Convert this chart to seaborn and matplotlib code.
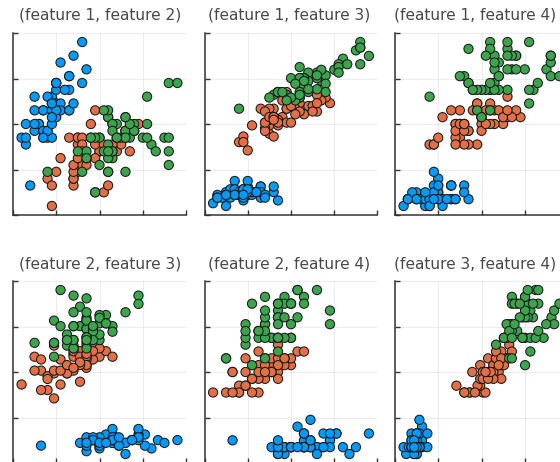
import numpy as np
import pandas as pd
import matplotlib
matplotlib.use("Agg")
import matplotlib.pyplot as plt
import seaborn as sns

# Iris measurements (150 flowers, 3 species of 50)
feature_1 = [
    5.1, 4.9, 4.7, 4.6, 5.0, 5.4, 4.6, 5.0, 4.4, 4.9, 5.4, 4.8, 4.8, 4.3, 5.8, 5.7, 5.4, 5.1, 5.7, 5.1,
    5.4, 5.1, 4.6, 5.1, 4.8, 5.0, 5.0, 5.2, 5.2, 4.7, 4.8, 5.4, 5.2, 5.5, 4.9, 5.0, 5.5, 4.9, 4.4, 5.1,
    5.0, 4.5, 4.4, 5.0, 5.1, 4.8, 5.1, 4.6, 5.3, 5.0,
    7.0, 6.4, 6.9, 5.5, 6.5, 5.7, 6.3, 4.9, 6.6, 5.2, 5.0, 5.9, 6.0, 6.1, 5.6, 6.7, 5.6, 5.8, 6.2, 5.6,
    5.9, 6.1, 6.3, 6.1, 6.4, 6.6, 6.8, 6.7, 6.0, 5.7, 5.5, 5.5, 5.8, 6.0, 5.4, 6.0, 6.7, 6.3, 5.6, 5.5,
    5.5, 6.1, 5.8, 5.0, 5.6, 5.7, 5.7, 6.2, 5.1, 5.7,
    6.3, 5.8, 7.1, 6.3, 6.5, 7.6, 4.9, 7.3, 6.7, 7.2, 6.5, 6.4, 6.8, 5.7, 5.8, 6.4, 6.5, 7.7, 7.7, 6.0,
    6.9, 5.6, 7.7, 6.3, 6.7, 7.2, 6.2, 6.1, 6.4, 7.2, 7.4, 7.9, 6.4, 6.3, 6.1, 7.7, 6.3, 6.4, 6.0, 6.9,
    6.7, 6.9, 5.8, 6.8, 6.7, 6.7, 6.3, 6.5, 6.2, 5.9,
]
feature_2 = [
    3.5, 3.0, 3.2, 3.1, 3.6, 3.9, 3.4, 3.4, 2.9, 3.1, 3.7, 3.4, 3.0, 3.0, 4.0, 4.4, 3.9, 3.5, 3.8, 3.8,
    3.4, 3.7, 3.6, 3.3, 3.4, 3.0, 3.4, 3.5, 3.4, 3.2, 3.1, 3.4, 4.1, 4.2, 3.1, 3.2, 3.5, 3.6, 3.0, 3.4,
    3.5, 2.3, 3.2, 3.5, 3.8, 3.0, 3.8, 3.2, 3.7, 3.3,
    3.2, 3.2, 3.1, 2.3, 2.8, 2.8, 3.3, 2.4, 2.9, 2.7, 2.0, 3.0, 2.2, 2.9, 2.9, 3.1, 3.0, 2.7, 2.2, 2.5,
    3.2, 2.8, 2.5, 2.8, 2.9, 3.0, 2.8, 3.0, 2.9, 2.6, 2.4, 2.4, 2.7, 2.7, 3.0, 3.4, 3.1, 2.3, 3.0, 2.5,
    2.6, 3.0, 2.6, 2.3, 2.7, 3.0, 2.9, 2.9, 2.5, 2.8,
    3.3, 2.7, 3.0, 2.9, 3.0, 3.0, 2.5, 2.9, 2.5, 3.6, 3.2, 2.7, 3.0, 2.5, 2.8, 3.2, 3.0, 3.8, 2.6, 2.2,
    3.2, 2.8, 2.8, 2.7, 3.3, 3.2, 2.8, 3.0, 2.8, 3.0, 2.8, 3.8, 2.8, 2.8, 2.6, 3.0, 3.4, 3.1, 3.0, 3.1,
    3.1, 3.1, 2.7, 3.2, 3.3, 3.0, 2.5, 3.0, 3.4, 3.0,
]
feature_3 = [
    1.4, 1.4, 1.3, 1.5, 1.4, 1.7, 1.4, 1.5, 1.4, 1.5, 1.5, 1.6, 1.4, 1.1, 1.2, 1.5, 1.3, 1.4, 1.7, 1.5,
    1.7, 1.5, 1.0, 1.7, 1.9, 1.6, 1.6, 1.5, 1.4, 1.6, 1.6, 1.5, 1.5, 1.4, 1.5, 1.2, 1.3, 1.4, 1.3, 1.5,
    1.3, 1.3, 1.3, 1.6, 1.9, 1.4, 1.6, 1.4, 1.5, 1.4,
    4.7, 4.5, 4.9, 4.0, 4.6, 4.5, 4.7, 3.3, 4.6, 3.9, 3.5, 4.2, 4.0, 4.7, 3.6, 4.4, 4.5, 4.1, 4.5, 3.9,
    4.8, 4.0, 4.9, 4.7, 4.3, 4.4, 4.8, 5.0, 4.5, 3.5, 3.8, 3.7, 3.9, 5.1, 4.5, 4.5, 4.7, 4.4, 4.1, 4.0,
    4.4, 4.6, 4.0, 3.3, 4.2, 4.2, 4.2, 4.3, 3.0, 4.1,
    6.0, 5.1, 5.9, 5.6, 5.8, 6.6, 4.5, 6.3, 5.8, 6.1, 5.1, 5.3, 5.5, 5.0, 5.1, 5.3, 5.5, 6.7, 6.9, 5.0,
    5.7, 4.9, 6.7, 4.9, 5.7, 6.0, 4.8, 4.9, 5.6, 5.8, 6.1, 6.4, 5.6, 5.1, 5.6, 6.1, 5.6, 5.5, 4.8, 5.4,
    5.6, 5.1, 5.1, 5.9, 5.7, 5.2, 5.0, 5.2, 5.4, 5.1,
]
feature_4 = [
    0.2, 0.2, 0.2, 0.2, 0.2, 0.4, 0.3, 0.2, 0.2, 0.1, 0.2, 0.2, 0.1, 0.1, 0.2, 0.4, 0.4, 0.3, 0.3, 0.3,
    0.2, 0.4, 0.2, 0.5, 0.2, 0.2, 0.4, 0.2, 0.2, 0.2, 0.2, 0.4, 0.1, 0.2, 0.2, 0.2, 0.2, 0.1, 0.2, 0.2,
    0.3, 0.3, 0.2, 0.6, 0.4, 0.3, 0.2, 0.2, 0.2, 0.2,
    1.4, 1.5, 1.5, 1.3, 1.5, 1.3, 1.6, 1.0, 1.3, 1.4, 1.0, 1.5, 1.0, 1.4, 1.3, 1.4, 1.5, 1.0, 1.5, 1.1,
    1.8, 1.3, 1.5, 1.2, 1.3, 1.4, 1.4, 1.7, 1.5, 1.0, 1.1, 1.0, 1.2, 1.6, 1.5, 1.6, 1.5, 1.3, 1.3, 1.3,
    1.2, 1.4, 1.2, 1.0, 1.3, 1.2, 1.3, 1.3, 1.1, 1.3,
    2.5, 1.9, 2.1, 1.8, 2.2, 2.1, 1.7, 1.8, 1.8, 2.5, 2.0, 1.9, 2.1, 2.0, 2.4, 2.3, 1.8, 2.2, 2.3, 1.5,
    2.3, 2.0, 2.0, 1.8, 2.1, 1.8, 1.8, 1.8, 2.1, 1.6, 1.9, 2.0, 2.2, 1.5, 1.4, 2.3, 2.4, 1.8, 1.8, 2.1,
    2.4, 2.3, 1.9, 2.3, 2.5, 2.3, 1.9, 2.0, 2.3, 1.8,
]
classes = ["setosa", "versicolor", "virginica"]
label = [c for c in classes for _ in range(50)]

pairs = [(1, 2), (1, 3), (1, 4), (2, 3), (2, 4), (3, 4)]
colors = ["#009AFA", "#E26F46", "#3DA44E"]

df = pd.DataFrame({
    "feature 1": feature_1,
    "feature 2": feature_2,
    "feature 3": feature_3,
    "feature 4": feature_4,
    "class": label,
})

sns.set_style("white")

W, H = 560, 462
fig = plt.figure(figsize=(W / 100, H / 100), dpi=100)

col_left = [13, 204.5, 395]
row_top = [33, 281]
title_x = [100.5, 289, 475]
title_y = [15, 264]
aw, ah = 173, 182
ink = "#333333"


def limits(values, pad=0.055):
    lo, hi = min(values), max(values)
    r = hi - lo
    return lo - pad * r, hi + pad * r


for k, (i, j) in enumerate(pairs):
    r, c = divmod(k, 3)
    left = col_left[c] / W
    bottom = 1 - (row_top[r] + ah) / H
    ax = fig.add_axes([left, bottom, aw / W, ah / H])
    xname, yname = f"feature {i}", f"feature {j}"
    sns.scatterplot(
        data=df, x=xname, y=yname, hue="class", hue_order=classes,
        palette=colors, s=44, edgecolor="#1a1a1a", linewidth=0.75,
        alpha=1.0, legend=False, ax=ax, zorder=3,
    )
    x0, x1 = limits(df[xname])
    y0, y1 = limits(df[yname])
    ax.set_xlim(x0, x1)
    ax.set_ylim(y0, y1)
    ax.set_xticks(np.linspace(x0, x1, 5))
    ax.set_yticks(np.linspace(y0, y1, 5))
    ax.set_xticklabels([])
    ax.set_yticklabels([])
    ax.set_xlabel("")
    ax.set_ylabel("")
    ax.tick_params(direction="in", length=3.5, width=1.0, color=ink,
                   bottom=True, left=True)
    ax.grid(True, color="#000000", alpha=0.07, linewidth=0.8, zorder=0)
    for side in ("top", "right"):
        ax.spines[side].set_visible(False)
    for side in ("left", "bottom"):
        ax.spines[side].set_color(ink)
        ax.spines[side].set_linewidth(1.1)
    ax.set_facecolor("white")
    fig.text(title_x[c] / W, 1 - title_y[r] / H, f"({xname}, {yname})",
             ha="center", va="center", fontsize=11.1, color="#484848")

fig.savefig("out.png", dpi=100)
